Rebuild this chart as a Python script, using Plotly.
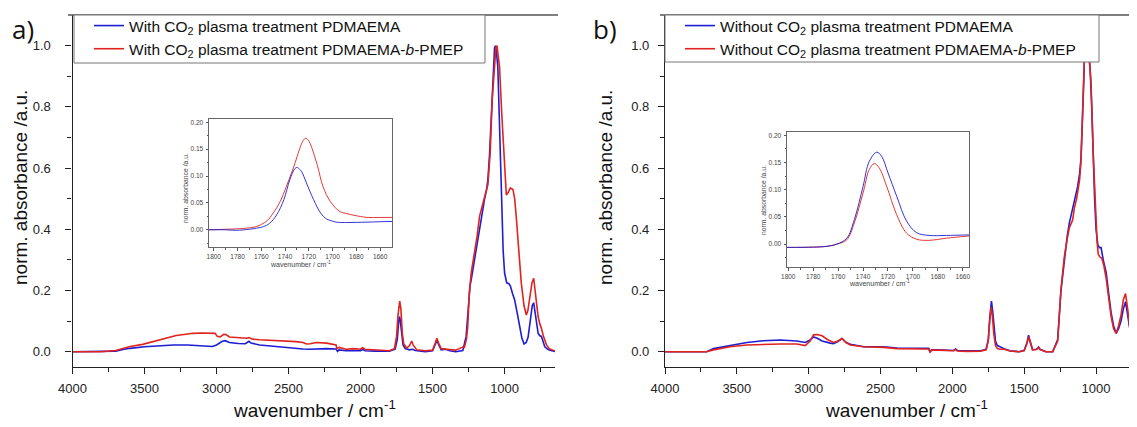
import plotly.graph_objects as go

# The page body adds an 8 px margin, so the figure is 8 px smaller and coordinates are offset.
OFF = 8
W, H = 1137 - OFF, 427 - OFF

# ---------------- data ----------------
# Panel a) main spectra
a_blue_wn = [4000, 3800, 3700, 3650, 3600, 3500, 3400, 3300, 3200, 3100, 3030, 3000, 2960, 2940, 2910, 2850,
             2800, 2775, 2760, 2700, 2600, 2500, 2400, 2350, 2300, 2236, 2170, 2160, 2150, 2100, 2050, 2000,
             1985, 1970, 1900, 1800, 1760, 1745, 1735, 1730, 1725, 1715, 1705, 1690, 1660, 1640, 1620, 1550,
             1500, 1480, 1470, 1460, 1440, 1410, 1380, 1340, 1290, 1267, 1250, 1240, 1230, 1209, 1190, 1174,
             1155, 1140, 1125, 1116, 1105, 1093, 1080, 1070, 1065, 1058, 1047, 1035, 1023, 1010, 1000, 985,
             970, 960, 945, 930, 910, 895, 880, 865, 850, 837, 820, 808, 798, 787, 775, 767, 755, 744, 732,
             721, 700, 686, 650]
a_blue_abs = [0.000, 0.000, 0.002, 0.007, 0.011, 0.016, 0.020, 0.022, 0.022, 0.020, 0.017, 0.022, 0.034, 0.036,
              0.030, 0.027, 0.026, 0.034, 0.028, 0.022, 0.017, 0.013, 0.009, 0.008, 0.009, 0.010, 0.009, 0.001,
              0.006, 0.003, 0.004, 0.003, 0.008, 0.003, 0.002, 0.002, 0.008, 0.040, 0.100, 0.115, 0.105, 0.060,
              0.022, 0.010, 0.006, 0.008, 0.004, 0.000, 0.003, 0.025, 0.040, 0.025, 0.006, 0.008, 0.003, 0.000,
              0.004, 0.050, 0.170, 0.215, 0.240, 0.300, 0.355, 0.409, 0.455, 0.496, 0.530, 0.561, 0.640, 0.769,
              0.900, 0.990, 1.000, 0.985, 0.930, 0.720, 0.474, 0.330, 0.257, 0.225, 0.222, 0.215, 0.190, 0.169,
              0.120, 0.080, 0.045, 0.025, 0.030, 0.047, 0.100, 0.150, 0.160, 0.130, 0.085, 0.060, 0.052, 0.050,
              0.030, 0.016, 0.008, 0.005, 0.001]

a_red_wn = [4000, 3800, 3700, 3650, 3600, 3513, 3450, 3396, 3330, 3280, 3200, 3166, 3100, 3030, 3010, 2995,
            2975, 2950, 2935, 2910, 2850, 2792, 2775, 2750, 2700, 2600, 2500, 2450, 2400, 2375, 2350, 2306,
            2236, 2170, 2165, 2150, 2100, 2050, 2000, 1986, 1970, 1900, 1800, 1765, 1750, 1740, 1733, 1728,
            1720, 1710, 1700, 1680, 1660, 1645, 1635, 1610, 1550, 1500, 1480, 1470, 1460, 1440, 1400, 1340,
            1314, 1290, 1279, 1265, 1256, 1245, 1232, 1209, 1190, 1174, 1155, 1140, 1125, 1116, 1100, 1086,
            1070, 1060, 1053, 1045, 1035, 1020, 1000, 988, 975, 960, 942, 930, 919, 905, 884, 865, 849, 838,
            826, 810, 798, 787, 775, 767, 755, 744, 730, 709, 690, 650]
a_red_abs = [0.000, 0.000, 0.004, 0.010, 0.017, 0.024, 0.032, 0.040, 0.048, 0.053, 0.058, 0.060, 0.061, 0.062,
             0.060, 0.050, 0.048, 0.057, 0.056, 0.048, 0.046, 0.044, 0.046, 0.041, 0.039, 0.037, 0.034, 0.033,
             0.030, 0.025, 0.026, 0.030, 0.028, 0.022, 0.010, 0.014, 0.008, 0.010, 0.008, 0.013, 0.008, 0.005,
             0.003, 0.010, 0.050, 0.120, 0.160, 0.165, 0.140, 0.060, 0.025, 0.012, 0.020, 0.035, 0.022, 0.006,
             0.003, 0.005, 0.030, 0.044, 0.030, 0.010, 0.008, 0.005, 0.010, 0.015, 0.014, 0.040, 0.080, 0.190,
             0.257, 0.322, 0.380, 0.442, 0.480, 0.507, 0.530, 0.545, 0.650, 0.824, 0.950, 0.995, 1.000, 0.975,
             0.930, 0.780, 0.600, 0.512, 0.520, 0.535, 0.530, 0.500, 0.440, 0.360, 0.224, 0.150, 0.120, 0.135,
             0.169, 0.225, 0.240, 0.200, 0.150, 0.114, 0.090, 0.076, 0.050, 0.022, 0.010, 0.002]

# Panel b) main spectra
b_blue_wn = [4000, 3710, 3663, 3547, 3430, 3316, 3198, 3083, 3024, 2990, 2966, 2940, 2907, 2850, 2828, 2800,
             2768, 2740, 2710, 2617, 2478, 2385, 2268, 2164, 2155, 2145, 2101, 2050, 1990, 1978, 1965, 1900,
             1803, 1765, 1750, 1740, 1732, 1728, 1720, 1712, 1700, 1687, 1670, 1640, 1600, 1535, 1500, 1480,
             1470, 1460, 1442, 1415, 1400, 1390, 1349, 1302, 1267, 1244, 1221, 1200, 1186, 1165, 1151, 1140,
             1128, 1115, 1105, 1090, 1081, 1070, 1060, 1050, 1042, 1030, 1023, 1010, 1000, 988, 977, 965, 950,
             930, 912, 895, 878, 860, 843, 826, 810, 795, 780, 767, 757, 749, 735, 719]
b_blue_abs = [0.000, 0.000, 0.010, 0.020, 0.030, 0.036, 0.038, 0.035, 0.030, 0.038, 0.048, 0.044, 0.035, 0.028,
              0.026, 0.032, 0.043, 0.030, 0.024, 0.016, 0.016, 0.012, 0.012, 0.011, -0.002, 0.006, 0.006, 0.004,
              0.004, 0.009, 0.004, 0.003, 0.003, 0.008, 0.040, 0.110, 0.160, 0.165, 0.135, 0.085, 0.035, 0.020,
              0.016, 0.010, 0.003, 0.000, 0.005, 0.030, 0.054, 0.035, 0.007, 0.008, 0.015, 0.008, 0.000, 0.000,
              0.040, 0.200, 0.300, 0.380, 0.420, 0.465, 0.496, 0.520, 0.540, 0.580, 0.630, 0.820, 0.954, 1.000,
              1.000, 0.970, 0.930, 0.800, 0.660, 0.500, 0.400, 0.350, 0.340, 0.340, 0.300, 0.260, 0.190, 0.127,
              0.085, 0.060, 0.075, 0.100, 0.140, 0.163, 0.120, 0.080, 0.072, 0.070, 0.040, 0.016]

b_red_wn = [4000, 3710, 3663, 3547, 3430, 3316, 3198, 3083, 3024, 2990, 2966, 2940, 2907, 2870, 2828, 2800,
            2768, 2740, 2710, 2617, 2478, 2385, 2268, 2164, 2155, 2145, 2101, 2050, 1990, 1978, 1965, 1900,
            1803, 1765, 1750, 1740, 1733, 1729, 1722, 1712, 1700, 1687, 1670, 1640, 1600, 1535, 1500, 1480,
            1470, 1460, 1442, 1415, 1400, 1390, 1349, 1302, 1267, 1244, 1221, 1200, 1186, 1163, 1151, 1135,
            1115, 1105, 1090, 1081, 1070, 1060, 1048, 1035, 1020, 1012, 1000, 993, 985, 975, 960, 945, 930,
            912, 895, 878, 860, 843, 826, 810, 795, 780, 767, 757, 749, 735, 719]
b_red_abs = [0.000, 0.000, 0.006, 0.016, 0.022, 0.024, 0.025, 0.025, 0.020, 0.035, 0.055, 0.056, 0.052, 0.040,
             0.030, 0.034, 0.043, 0.030, 0.022, 0.016, 0.014, 0.010, 0.010, 0.009, -0.001, 0.005, 0.005, 0.003,
             0.003, 0.007, 0.002, 0.001, 0.002, 0.006, 0.035, 0.100, 0.143, 0.146, 0.120, 0.060, 0.020, 0.010,
             0.008, 0.008, 0.002, 0.000, 0.003, 0.028, 0.049, 0.032, 0.006, 0.007, 0.013, 0.007, 0.000, 0.000,
             0.035, 0.205, 0.310, 0.370, 0.405, 0.430, 0.470, 0.500, 0.560, 0.620, 0.820, 0.960, 1.000, 1.000,
             0.960, 0.880, 0.650, 0.550, 0.420, 0.360, 0.320, 0.310, 0.305, 0.280, 0.240, 0.170, 0.115, 0.075,
             0.060, 0.085, 0.120, 0.170, 0.190, 0.140, 0.085, 0.075, 0.070, 0.040, 0.016]

# Insets (carbonyl region)
ia_blue_wn = [1804, 1790, 1781, 1770, 1764, 1758, 1753, 1747, 1741, 1736, 1732, 1730, 1728, 1726, 1722, 1716,
              1710, 1705, 1700, 1696, 1688, 1680, 1671, 1660, 1650]
ia_blue_abs = [0.000, 0.000, -0.001, 0.001, 0.003, 0.006, 0.012, 0.028, 0.056, 0.093, 0.113, 0.116, 0.113, 0.108,
               0.087, 0.056, 0.031, 0.020, 0.016, 0.014, 0.0135, 0.0138, 0.0142, 0.015, 0.0155]
ia_red_wn = [1804, 1790, 1775, 1764, 1760, 1755, 1750, 1744, 1739, 1733, 1727, 1725, 1723, 1721, 1719, 1713,
             1708, 1702, 1694, 1688, 1682, 1671, 1660, 1650]
ia_red_abs = [0.000, 0.001, 0.0025, 0.006, 0.010, 0.017, 0.031, 0.053, 0.080, 0.115, 0.155, 0.165, 0.170, 0.168,
              0.161, 0.121, 0.080, 0.053, 0.034, 0.030, 0.027, 0.023, 0.023, 0.023]

ib_blue_wn = [1801, 1780, 1769, 1761, 1753, 1747, 1740, 1735, 1729, 1725, 1720, 1713, 1705, 1697, 1687, 1673, 1655]
ib_blue_abs = [-0.006, -0.0055, -0.004, 0.000, 0.011, 0.045, 0.106, 0.152, 0.169, 0.161, 0.131, 0.088, 0.042,
               0.021, 0.016, 0.016, 0.017]
ib_red_wn = [1801, 1780, 1769, 1761, 1753, 1747, 1740, 1735, 1731, 1727, 1721, 1713, 1705, 1697, 1687, 1673, 1655]
ib_red_abs = [-0.006, -0.0055, -0.004, 0.000, 0.008, 0.039, 0.094, 0.137, 0.148, 0.140, 0.106, 0.054, 0.020,
              0.009, 0.007, 0.011, 0.015]

legend_a = ["With CO<sub>2</sub> plasma treatment PDMAEMA",
            "With CO<sub>2</sub> plasma treatment PDMAEMA-<i>b</i>-PMEP"]
legend_b = ["Without CO<sub>2</sub> plasma treatment PDMAEMA",
            "Without CO<sub>2</sub> plasma treatment PDMAEMA-<i>b</i>-PMEP"]

x_major = [4000, 3500, 3000, 2500, 2000, 1500, 1000]
x_minor = [3750, 3250, 2750, 2250, 1750, 1250, 750]
y_major = [0.0, 0.2, 0.4, 0.6, 0.8, 1.0]
y_minor = [0.1, 0.3, 0.5, 0.7, 0.9]
ix_major = [1800, 1780, 1760, 1740, 1720, 1700, 1680, 1660]
ix_minor = [1790, 1770, 1750, 1730, 1710, 1690, 1670]
iy_major = [0.00, 0.05, 0.10, 0.15, 0.20]
iy_minor = [-0.025, 0.025, 0.075, 0.125, 0.175]

x_title = "wavenumber / cm<sup>-1</sup>"
y_title = "norm. absorbance /a.u."

# ---------------- figure ----------------
BLUE = "#1d1dd4"
RED = "#e0231f"
FONT = "Liberation Sans"


def fx(p):
    return (p - OFF) / W


def fy(p):
    return 1 - (p - OFF) / H


fig = go.Figure()

for wn, ab, col, name, leg in [(a_blue_wn, a_blue_abs, BLUE, legend_a[0], "legend"),
                               (a_red_wn, a_red_abs, RED, legend_a[1], "legend")]:
    fig.add_trace(go.Scatter(x=wn, y=ab, mode="lines", name=name, legend=leg,
                             line=dict(color=col, width=1.6), xaxis="x", yaxis="y"))
for wn, ab, col, name, leg in [(b_blue_wn, b_blue_abs, BLUE, legend_b[0], "legend2"),
                               (b_red_wn, b_red_abs, RED, legend_b[1], "legend2")]:
    fig.add_trace(go.Scatter(x=wn, y=ab, mode="lines", name=name, legend=leg,
                             line=dict(color=col, width=1.6), xaxis="x2", yaxis="y2"))
fig.add_trace(go.Scatter(x=ia_red_wn, y=ia_red_abs, mode="lines", showlegend=False,
                         line=dict(color=RED, width=0.9, shape="spline"), xaxis="x3", yaxis="y3"))
fig.add_trace(go.Scatter(x=ia_blue_wn, y=ia_blue_abs, mode="lines", showlegend=False,
                         line=dict(color=BLUE, width=0.9, shape="spline"), xaxis="x3", yaxis="y3"))
fig.add_trace(go.Scatter(x=ib_red_wn, y=ib_red_abs, mode="lines", showlegend=False,
                         line=dict(color=RED, width=0.9, shape="spline"), xaxis="x4", yaxis="y4"))
fig.add_trace(go.Scatter(x=ib_blue_wn, y=ib_blue_abs, mode="lines", showlegend=False,
                         line=dict(color=BLUE, width=0.9, shape="spline"), xaxis="x4", yaxis="y4"))

tickfont = dict(family=FONT, size=13, color="#222")
ifont = dict(family=FONT, size=6.5, color="#444")


def main_x(domain, rng, anchor):
    return dict(domain=domain, range=rng, anchor=anchor, tickmode="array", tickvals=x_major,
                ticks="outside", ticklen=6, tickwidth=1.2, tickcolor="#222", automargin=False,
                showline=True, linecolor="#222", linewidth=1.3, showgrid=False, zeroline=False,
                tickfont=tickfont, ticklabelstandoff=3,
                minor=dict(tickvals=x_minor, ticks="outside", ticklen=4, tickwidth=1.2, tickcolor="#222"))


def main_y(domain, anchor, standoff):
    return dict(domain=domain, range=[-0.05, 1.1], anchor=anchor, tickmode="array", tickvals=y_major,
                tickformat=".1f", ticks="outside", ticklen=6, tickwidth=1.2, tickcolor="#222", automargin=False,
                showline=True, linecolor="#222", linewidth=1.3, showgrid=False, zeroline=False,
                tickfont=tickfont, ticklabelstandoff=standoff,
                minor=dict(tickvals=y_minor, ticks="outside", ticklen=4, tickwidth=1.2, tickcolor="#222"))


def inset_x(domain, rng, anchor):
    return dict(domain=domain, range=rng, anchor=anchor, tickmode="array", tickvals=ix_major,
                ticks="outside", ticklen=2.5, tickwidth=0.7, tickcolor="#555", automargin=False,
                showline=True, mirror=True, linecolor="#666", linewidth=1, showgrid=False, zeroline=False,
                tickfont=ifont, ticklabelstandoff=1,
                minor=dict(tickvals=ix_minor, ticks="outside", ticklen=1.5, tickwidth=0.7, tickcolor="#555"))


def inset_y(domain, rng, anchor):
    return dict(domain=domain, range=rng, anchor=anchor, tickmode="array", tickvals=iy_major,
                tickformat=".2f", ticks="outside", ticklen=2.5, tickwidth=0.7, tickcolor="#555", automargin=False,
                showline=True, mirror=True, linecolor="#666", linewidth=1, showgrid=False, zeroline=False,
                tickfont=ifont, ticklabelstandoff=1,
                minor=dict(tickvals=iy_minor, ticks="outside", ticklen=1.5, tickwidth=0.7, tickcolor="#555"))


ydom = [fy(367), fy(15)]
fig.update_layout(
    width=W, height=H, margin=dict(l=0, r=0, t=0, b=0, pad=0, autoexpand=False),
    paper_bgcolor="white", plot_bgcolor="white",
    xaxis=main_x([fx(72.5), fx(555)], [4000, 650], "y"),
    yaxis=main_y(ydom, "x", 12),
    xaxis2=main_x([fx(665), 1.0], [4000, 715], "y2"),
    yaxis2=main_y(ydom, "x2", 6),
    xaxis3=inset_x([fx(209), fx(392)], [1804, 1650], "y3"),
    yaxis3=inset_y([fy(247), fy(119)], [-0.032, 0.206], "x3"),
    xaxis4=inset_x([fx(787), fx(969)], [1801, 1655], "y4"),
    yaxis4=inset_y([fy(267), fy(132)], [-0.042, 0.206], "x4"),
    legend=dict(x=fx(89), y=fy(9), xanchor="left", yanchor="top", bgcolor="rgba(0,0,0,0)",
                borderwidth=0, font=dict(family=FONT, size=15.5, color="#111"), tracegroupgap=0),
    legend2=dict(x=fx(680), y=fy(9), xanchor="left", yanchor="top", bgcolor="rgba(0,0,0,0)",
                 borderwidth=0, font=dict(family=FONT, size=15.5, color="#111"), tracegroupgap=0),
)

shapes = [
    dict(type="line", xref="paper", yref="paper", x0=fx(68), x1=fx(558), y0=fy(15), y1=fy(15),
         line=dict(color="#555", width=1.5), layer="above"),
    dict(type="line", xref="paper", yref="paper", x0=fx(660), x1=1.0, y0=fy(15), y1=fy(15),
         line=dict(color="#555", width=1.5), layer="above"),
    dict(type="rect", xref="paper", yref="paper", x0=fx(74), x1=fx(485), y0=fy(63), y1=fy(15),
         line=dict(color="#777", width=1), fillcolor="white", layer="above"),
    dict(type="rect", xref="paper", yref="paper", x0=fx(665), x1=fx(1099), y0=fy(62), y1=fy(15),
         line=dict(color="#777", width=1), fillcolor="white", layer="above"),
]
fig.update_layout(shapes=shapes)

ann = [
    dict(text="a)", x=fx(23), y=fy(29), font=dict(family="Open Sans", size=26, color="#111")),
    dict(text="b)", x=fx(605), y=fy(29), font=dict(family="Open Sans", size=26, color="#111")),
    dict(text=y_title, x=fx(20), y=fy(188), textangle=-90, font=dict(family=FONT, size=19, color="#111")),
    dict(text=y_title, x=fx(605), y=fy(188), textangle=-90, font=dict(family=FONT, size=19, color="#111")),
    dict(text=x_title, x=fx(314), y=fy(409), font=dict(family=FONT, size=19, color="#111")),
    dict(text=x_title, x=fx(906), y=fy(409), font=dict(family=FONT, size=19, color="#111")),
    dict(text=y_title, x=fx(185), y=fy(188), textangle=-90, font=dict(family=FONT, size=6.8, color="#444")),
    dict(text=x_title, x=fx(300), y=fy(264), font=dict(family=FONT, size=7, color="#444")),
    dict(text=y_title, x=fx(764), y=fy(200), textangle=-90, font=dict(family=FONT, size=6.8, color="#444")),
    dict(text=x_title, x=fx(879), y=fy(283), font=dict(family=FONT, size=7, color="#444")),
]
for a in ann:
    a.update(xref="paper", yref="paper", showarrow=False, xanchor="center", yanchor="middle")
fig.update_layout(annotations=ann)

fig.write_html("out.html")
